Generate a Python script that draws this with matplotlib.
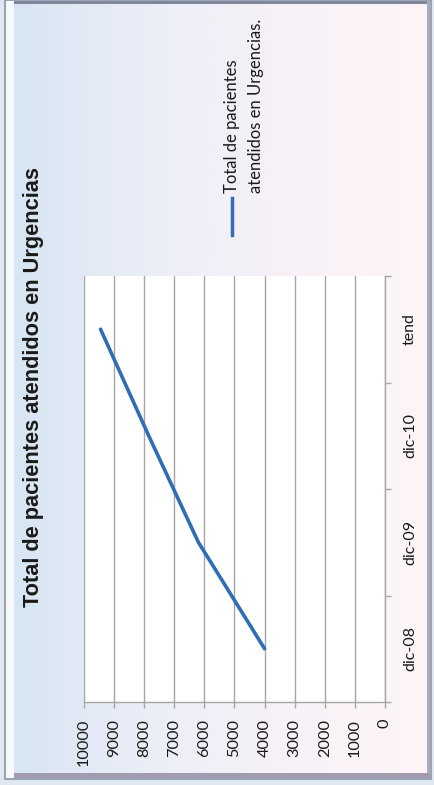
import numpy as np
import matplotlib
matplotlib.use("Agg")
import matplotlib.pyplot as plt
from matplotlib.colors import LinearSegmentedColormap
from matplotlib.patches import Rectangle
from matplotlib.lines import Line2D

# ---- data ----
categories = ["dic-08", "dic-09", "dic-10", "tend"]
values = [4000, 6200, 7850, 9450]
value_ticks = list(range(0, 10001, 1000))
title = "Total de pacientes atendidos en Urgencias"
series_label = ["Total de pacientes", "atendidos en Urgencias."]

W, H = 435, 785
fig = plt.figure(figsize=(W / 100, H / 100), dpi=100)
fig.patch.set_facecolor("#dfe7f0")

# background frame in pixel coordinates
bg = fig.add_axes([0, 0, 1, 1])
bg.set_xlim(0, W)
bg.set_ylim(H, 0)
bg.axis("off")
bg.add_patch(Rectangle((5, 0), 426, 779, facecolor="#f4f6fa", edgecolor="#8c95a8", lw=1.2))
grad = np.linspace(0, 1, 256)[None, :]
cmap = LinearSegmentedColormap.from_list("g", ["#d8e5f3", "#eceef7", "#f8f1f7", "#fdf5f8"])
bg.imshow(grad, cmap=cmap, extent=(14, 427, 773, 4), aspect="auto", zorder=1)
# bevel edges
bg.add_patch(Rectangle((14, 0.5), 416, 3.5, facecolor="#7f889c", edgecolor="none", zorder=2))
bg.add_patch(Rectangle((427, 0.5), 3.5, 777, facecolor="#a7adbd", edgecolor="none", zorder=2))
bg.add_patch(Rectangle((14, 773), 416, 5, facecolor="#a09cae", edgecolor="none", zorder=2))
bg.add_patch(Rectangle((7, 0.5), 7, 777, facecolor="#f7f9fc", edgecolor="none", zorder=2))

# title
fig.text(34 / W, 1 - 387 / H, title, rotation=90, ha="center", va="center",
         fontsize=15.7, fontweight="bold", family="Liberation Sans", color="#1a1a1a")

# legend (manual, rotated)
bg.add_line(Line2D([232, 232], [198, 235], color="#2f6db5", lw=2.5, zorder=3))
fig.text(232 / W, 1 - 193 / H, series_label[0], rotation=90, ha="center", va="bottom",
         fontsize=12, family="Lato", color="#1a1a1a")
fig.text(256 / W, 1 - 193 / H, series_label[1], rotation=90, ha="center", va="bottom",
         fontsize=12, family="Lato", color="#1a1a1a")

# plot area
left, right, top, bottom = 84, 385, 276, 702
ax = fig.add_axes([left / W, 1 - bottom / H, (right - left) / W, (bottom - top) / H])
ax.set_facecolor("white")
ypos = np.arange(len(categories))
ax.plot(values, ypos, color="#2f6db5", lw=2.6, solid_capstyle="round", zorder=3)
ax.set_xlim(10000, 0)
ax.set_ylim(-0.5, len(categories) - 0.5)

ax.set_xticks(value_ticks)
ax.set_xticklabels([str(v) for v in value_ticks], rotation=90, fontsize=11.8, family="Lato", color="#1a1a1a")
ax.xaxis.grid(True, color="#a6a6a6", lw=1.0)
ax.set_axisbelow(True)
ax.tick_params(axis="x", length=4, color="#a6a6a6", pad=8, width=1)

ax.yaxis.tick_right()
ax.set_yticks(np.arange(-0.5, len(categories), 1.0))
ax.set_yticklabels([])
ax.set_yticks(ypos, minor=True)
ax.set_yticklabels(categories, minor=True, rotation=90, va="center", ha="left",
                   fontsize=11.5, family="Lato", color="#1a1a1a")
ax.tick_params(axis="y", which="major", length=4, color="#a6a6a6", width=1)
ax.tick_params(axis="y", which="minor", length=0, pad=13)

for s in ["top", "left"]:
    ax.spines[s].set_visible(False)
for s in ["bottom", "right"]:
    ax.spines[s].set_color("#a6a6a6")
    ax.spines[s].set_linewidth(1.0)

fig.savefig("out.png", dpi=100, facecolor=fig.get_facecolor())
